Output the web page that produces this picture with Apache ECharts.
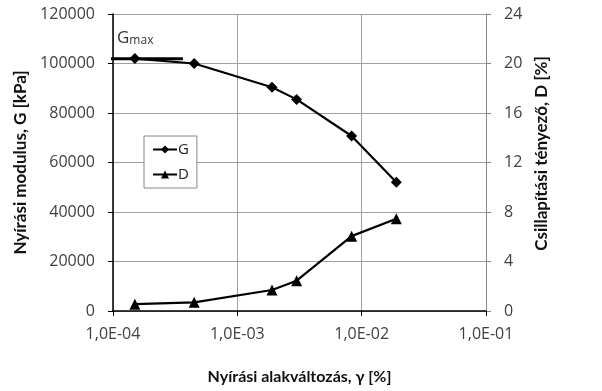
<!DOCTYPE html>
<html><head><meta charset="utf-8">
<script src="https://cdn.jsdelivr.net/npm/echarts@6/dist/echarts.min.js"></script>
<style>html,body{margin:0;padding:0;background:#fff}#c{width:602px;height:391px}</style>
</head><body><div id="c"></div>
<script>
var strain = [1.5e-4, 4.5e-4, 1.9e-3, 3.0e-3, 8.3e-3, 1.9e-2];
var gValues = [102000, 100000, 90400, 85500, 70700, 52000];
var dValues = [0.55, 0.7, 1.7, 2.45, 6.05, 7.45];
var gmaxX = [7.6e-5, 3.65e-4];
var gmaxY = [101900, 101900];
var xTickLabels = ['1,0E-04', '1,0E-03', '1,0E-02', '1,0E-01'];
var xTickValues = [1e-4, 1e-3, 1e-2, 1e-1];

var FONT = '"Open Sans", Lato, sans-serif';
var TFONT = 'Lato, "Open Sans", sans-serif';
var chart = echarts.init(document.getElementById('c'), null, {renderer: 'canvas'});
chart.setOption({
  animation: false,
  backgroundColor: '#fff',
  textStyle: {fontFamily: FONT},
  grid: {left: 113, right: 116, top: 14, bottom: 80, containLabel: false},
  legend: {
    orient: 'vertical', left: 144, top: 136, width: 48,
    padding: [6, 8, 6, 8], itemGap: 10, itemWidth: 24, itemHeight: 10,
    borderColor: '#888', borderWidth: 1, backgroundColor: '#fff',
    textStyle: {fontFamily: FONT, fontSize: 15, color: '#222', padding: [0, 0, 0, -4]},
    data: ['G', 'D']
  },
  xAxis: {
    type: 'log', logBase: 10, min: 1e-4, max: 1e-1,
    name: 'Nyírási alakváltozás, γ [%]', nameLocation: 'middle', nameGap: 58,
    nameTextStyle: {fontFamily: TFONT, fontSize: 16, fontWeight: 'bold', color: '#111'},
    axisLine: {show: true, onZero: false, lineStyle: {color: '#000', width: 1.5}},
    axisTick: {show: true, inside: false, length: 5, lineStyle: {color: '#000'}},
    minorTick: {show: false},
    axisLabel: {fontFamily: FONT, fontSize: 16, color: '#404040', margin: 15,
      formatter: function (v) {
        var e = Math.round(Math.log10(v));
        for (var i = 0; i < xTickValues.length; i++) {
          if (Math.round(Math.log10(xTickValues[i])) === e) return xTickLabels[i];
        }
        return '';
      }},
    splitLine: {show: true, lineStyle: {color: '#a0a0a0', width: 1}}
  },
  yAxis: [{
    type: 'value', min: 0, max: 120000, interval: 20000, position: 'left',
    name: 'Nyírási modulus, G [kPa]', nameLocation: 'middle', nameGap: 82, nameRotate: 90,
    nameTextStyle: {fontFamily: TFONT, fontSize: 17, fontWeight: 'bold', color: '#111'},
    axisLine: {show: true, lineStyle: {color: '#000', width: 1.5}},
    axisTick: {show: true, inside: false, length: 5, lineStyle: {color: '#000'}},
    axisLabel: {fontFamily: FONT, fontSize: 16, color: '#404040', margin: 18,
      formatter: function (v) { return String(v); }},
    splitLine: {show: true, lineStyle: {color: '#a0a0a0', width: 1}}
  }, {
    type: 'value', min: 0, max: 24, interval: 4, position: 'right',
    name: 'Csillapítási tényező, D [%]', nameLocation: 'middle', nameGap: 44, nameRotate: 90,
    nameTextStyle: {fontFamily: TFONT, fontSize: 17, fontWeight: 'bold', color: '#111', padding: [0, 0, 0, 18]},
    axisLine: {show: true, lineStyle: {color: '#888', width: 1}},
    axisTick: {show: true, inside: false, length: 5, lineStyle: {color: '#888'}},
    axisLabel: {fontFamily: FONT, fontSize: 16, color: '#404040', margin: 18},
    splitLine: {show: false}
  }],
  graphic: [{
    type: 'text', left: 117, top: 30, z: 10,
    style: {
      text: '{g|G}{m|max}',
      rich: {
        g: {fontFamily: FONT, fontSize: 17, fill: '#333'},
        m: {fontFamily: FONT, fontSize: 12, fill: '#333', padding: [4, 0, 0, 0]}
      }
    }
  }],
  series: [{
    name: 'Gmax', type: 'line', yAxisIndex: 0, clip: false, silent: true,
    data: gmaxX.map(function (x, i) { return [x, gmaxY[i]]; }),
    symbol: 'none', lineStyle: {color: '#000', width: 3}, z: 1
  }, {
    name: 'G', type: 'line', yAxisIndex: 0,
    data: strain.map(function (x, i) { return [x, gValues[i]]; }),
    symbol: 'diamond', symbolSize: 11,
    itemStyle: {color: '#000'}, lineStyle: {color: '#000', width: 2.2}, z: 3
  }, {
    name: 'D', type: 'line', yAxisIndex: 1,
    data: strain.map(function (x, i) { return [x, dValues[i]]; }),
    symbol: 'triangle', symbolSize: 11,
    itemStyle: {color: '#000'}, lineStyle: {color: '#000', width: 2.2}, z: 3
  }]
});
</script></body></html>
